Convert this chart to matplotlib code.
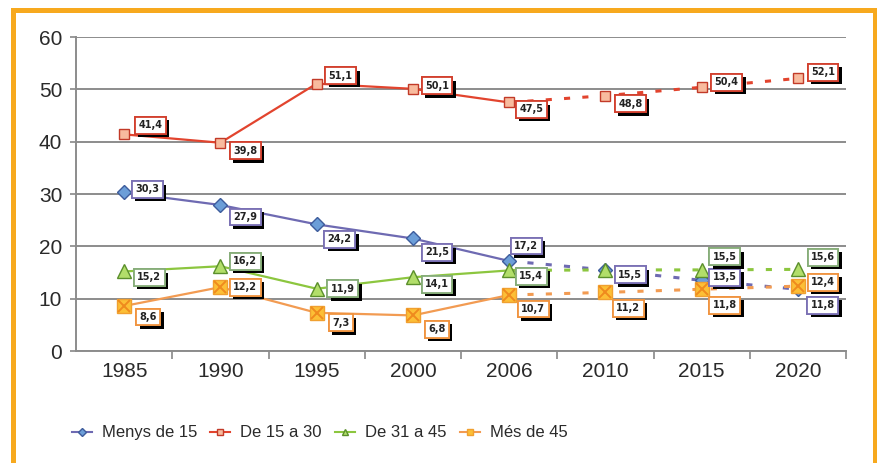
import matplotlib.pyplot as plt
import matplotlib.patheffects as pe
from matplotlib.patches import Rectangle
from matplotlib.lines import Line2D

plt.rcParams['font.family'] = ['Liberation Sans', 'DejaVu Sans']

# data
years = ['1985', '1990', '1995', '2000', '2006', '2010', '2015', '2020']
menys_15 = [30.3, 27.9, 24.2, 21.5, 17.2, 15.5, 13.5, 11.8]
de_15_30 = [41.4, 39.8, 51.1, 50.1, 47.5, 48.8, 50.4, 52.1]
de_31_45 = [15.2, 16.2, 11.9, 14.1, 15.4, 15.5, 15.5, 15.6]
mes_45 = [8.6, 12.2, 7.3, 6.8, 10.7, 11.2, 11.8, 12.4]
series_names = ['Menys de 15', 'De 15 a 30', 'De 31 a 45', 'Més de 45']
n_real = 5  # 1985-2006 measured, rest projected

# label offsets in pixels (dx, dy up), None = no label
offs_blue = [(23, 3), (25, -12), (23, -15), (24, -14), (17, 15), (25, -5), (23, 3), (25, -16)]
offs_red = [(26, 9), (25, -8), (24, 8), (24, 3), (22, -7), (25, -8), (25, 5), (25, 6)]
offs_green = [(25, -6), (25, 5), (26, 0), (24, -7), (22, -6), None, (23, 13), (25, 12)]
offs_orange = [(24, -11), (25, 0), (24, -10), (24, -14), (24, -14), (23, -16), (23, -16), (25, 4)]

styles = [
    dict(vals=menys_15, line='#6e6ab2', marker='D', ms=7.5, face='#6c9ed8', edge='#3d5c9c',
         box='#7a70b4', offs=offs_blue),
    dict(vals=de_15_30, line='#e2442e', marker='s', ms=7.5, face='#f8bb9e', edge='#c23a28',
         box='#d2402e', offs=offs_red),
    dict(vals=de_31_45, line='#8cc63f', marker='^', ms=9.5, face='#b2de6a', edge='#5b8f2c',
         box='#86ad78', offs=offs_green),
    dict(vals=mes_45, line='#f29b52', marker='s', ms=10, face='#fcbf36', edge='#f0a030',
         box='#f09440', offs=offs_orange),
]

fig = plt.figure(figsize=(8.77, 4.63), dpi=100)
ax = fig.add_axes([0.0867, 0.2419, 0.8780, 0.6781])

x = list(range(len(years)))
handles = []
for i, s in enumerate(styles):
    v = s['vals']
    ax.plot(x[:n_real], v[:n_real], color=s['line'], lw=1.6, zorder=3)
    ax.plot(x[n_real - 1:], v[n_real - 1:], color=s['line'], lw=2.2,
            linestyle=(0, (2, 4)), zorder=3)
    ax.plot(x, v, linestyle='none', marker=s['marker'], ms=s['ms'],
            mfc=s['face'], mec=s['edge'], mew=1, zorder=4)
    if i == 3:
        ax.plot(x, v, linestyle='none', marker='x', ms=s['ms'] - 1,
                mec='#ef8a1e', mew=1.4, zorder=5)
    for xi, yi, off in zip(x, v, s['offs']):
        if off is None:
            continue
        t = ax.annotate(f'{yi:.1f}'.replace('.', ','), (xi, yi),
                        xytext=(off[0] * 0.72, off[1] * 0.72), textcoords='offset points',
                        ha='center', va='center', fontsize=7, fontweight='bold',
                        family='DejaVu Sans', color='#222222', zorder=6,
                        bbox=dict(boxstyle='square,pad=0.35', fc='white',
                                  ec=s['box'], lw=1.3))
        t.get_bbox_patch().set_path_effects(
            [pe.withSimplePatchShadow(offset=(2.5, -2.5), shadow_rgbFace='black', alpha=1),
             pe.Normal()])
    hm = 's' if i == 3 else s['marker']
    handles.append(Line2D([0], [0], color=s['line'], lw=1.5, marker=hm,
                          ms=4.5, mfc=s['face'], mec=s['edge']))

ax.set_xlim(-0.5, len(years) - 0.5)
ax.set_ylim(0, 60)
ax.set_yticks(range(0, 61, 10))
ax.set_xticks(x)
ax.set_xticklabels(years)
ax.set_xticks([k + 0.5 for k in x], minor=True)
ax.tick_params(axis='x', which='major', length=0, labelsize=15, pad=8, colors='#2a2a2a')
ax.tick_params(axis='x', which='minor', length=6, width=1.2, color='#888888')
ax.tick_params(axis='y', length=4, width=1.2, color='#888888', labelsize=15, pad=6,
               labelcolor='#2a2a2a')
ax.grid(axis='y', color='#8c8c8c', lw=1.4)
ax.set_axisbelow(True)
for side in ['top', 'right']:
    ax.spines[side].set_visible(False)
for side in ['left', 'bottom']:
    ax.spines[side].set_color('#8c8c8c')
    ax.spines[side].set_linewidth(1.4)

leg = fig.legend(handles, series_names, loc='center left', bbox_to_anchor=(0.074, 0.065),
                 ncol=4, frameon=False, fontsize=12, handlelength=1.2,
                 handletextpad=0.6, columnspacing=0.8, borderaxespad=0)
for txt in leg.get_texts():
    txt.set_color('#2a2a2a')

# orange frame
fig.patches.append(Rectangle((12.5 / 877, -0.05), 862 / 877, 1.05 - 9.5 / 463,
                             transform=fig.transFigure, fill=False,
                             ec='#f7a91e', lw=3.6))

fig.savefig('out.png', dpi=100)
